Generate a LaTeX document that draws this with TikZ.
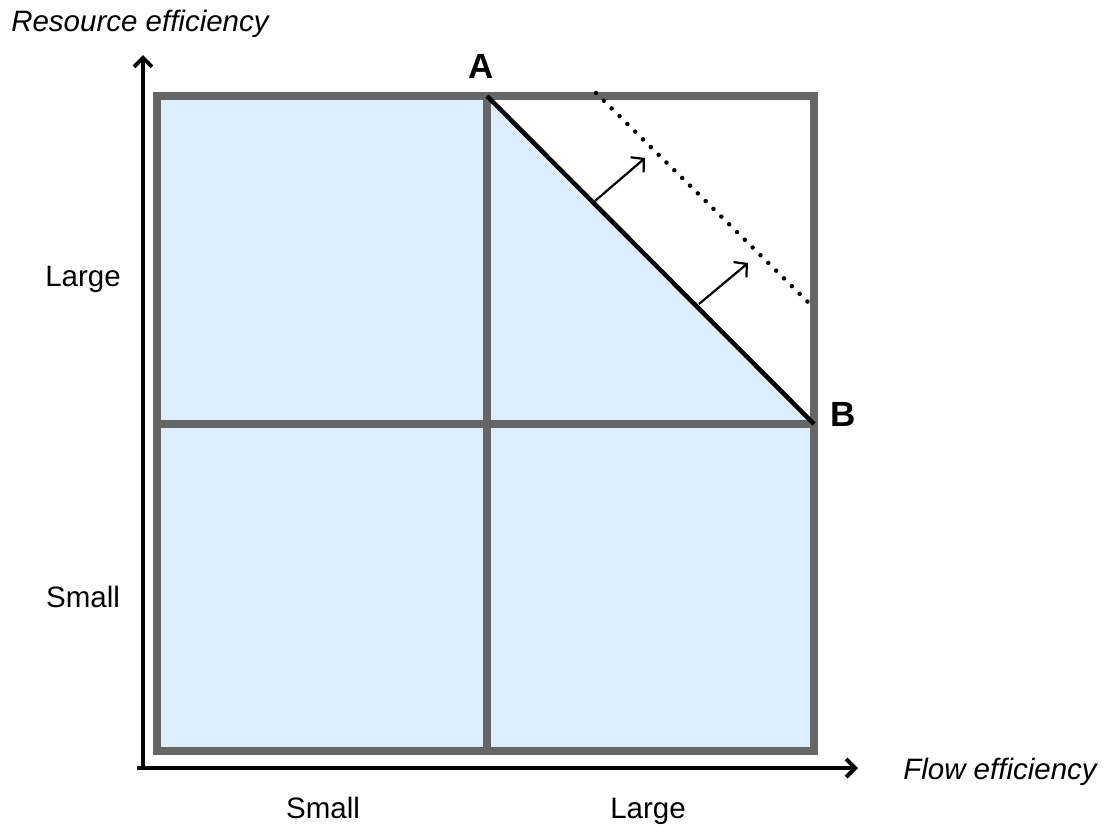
\documentclass[tikz,border=0pt]{standalone}
\usepackage{fontspec}
\setmainfont{Liberation Sans}
\usetikzlibrary{arrows.meta}
\definecolor{gridgray}{HTML}{666666}
\definecolor{cellblue}{HTML}{DDEEFF}
\tikzset{
  gridline/.style={draw=gridgray, line width=8pt},
  axisline/.style={draw=black, line width=4pt, -{Straight Barb[length=9pt,width=18pt,line width=4pt]}},
  pusharrow/.style={draw=black, line width=2.2pt, -{Straight Barb[length=9pt,width=20pt,line width=2.2pt]}},
  lbl/.style={font=\fontsize{29.5}{34}\selectfont, inner sep=0pt, anchor=base},
  corner/.style={font=\fontsize{35}{40}\selectfont\bfseries, inner sep=0pt, anchor=base}
}
\begin{document}
\begin{tikzpicture}[x=1pt,y=-1pt]
\useasboundingbox (0,0) rectangle (1108,825);
% grid corners
\coordinate (tl) at (157,96);
\coordinate (tm) at (487,96);
\coordinate (tr) at (814,96);
\coordinate (ml) at (157,424);
\coordinate (mr) at (814,424);
\coordinate (bl) at (157,751);
\coordinate (bm) at (487,751);
\coordinate (br) at (814,751);
% fills
\fill[cellblue] (tl) rectangle (br);
\fill[white] (tm) -- (tr) -- (mr) -- cycle;
% grid lines
\draw[gridline] (tl) rectangle (br);
\draw[gridline] (tm) -- (bm);
\draw[gridline] (ml) -- (mr);
% diagonal and dotted shift
\draw[black, line width=4.5pt] (tm) -- (mr);
\coordinate (d1) at (596,93);
\coordinate (d2) at (813,307);
\draw[black, line width=4.5pt, line cap=round, dash pattern=on 0pt off 11pt] (d1) -- (d2);
% push arrows
\coordinate (p1s) at (595,201);
\coordinate (p1e) at (645,158);
\coordinate (p2s) at (699,304);
\coordinate (p2e) at (748,263);
\draw[pusharrow] (p1s) -- (p1e);
\draw[pusharrow] (p2s) -- (p2e);
% axes
\coordinate (origin) at (143,768);
\coordinate (ytop) at (143,55);
\coordinate (xleft) at (137,768);
\coordinate (xright) at (858,768);
\draw[axisline] (origin) -- (ytop);
\draw[axisline] (xleft) -- (xright);
% labels
\node[lbl, font=\fontsize{29.5}{34}\selectfont\itshape] (ylab) at (140,31) {Resource efficiency};
\node[lbl, font=\fontsize{29.5}{34}\selectfont\itshape] (xlab) at (1000,779) {Flow efficiency};
\node[lbl] (yl) at (83,286) {Large};
\node[lbl] (ys) at (83,607) {Small};
\node[lbl] (xs) at (323,818) {Small};
\node[lbl] (xl) at (648,818) {Large};
\node[corner] (A) at (481,78) {A};
\node[corner] (B) at (843,426) {B};
\end{tikzpicture}
\end{document}
